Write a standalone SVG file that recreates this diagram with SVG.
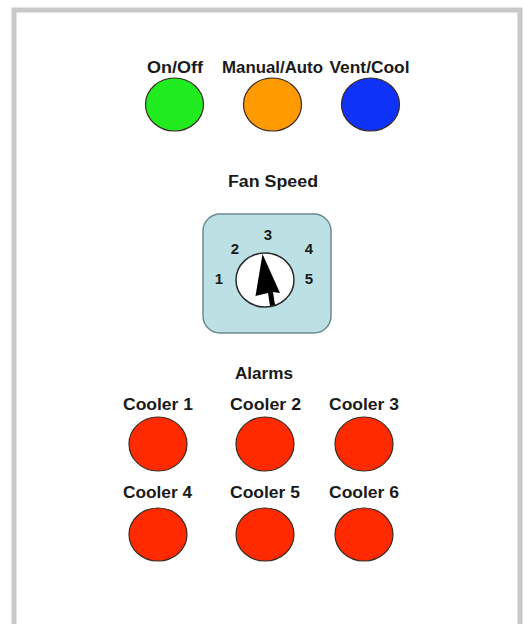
<svg xmlns="http://www.w3.org/2000/svg" width="523" height="624" viewBox="0 0 523 624">
  <style>
    .lbl { font-family: "Liberation Sans", Arial, sans-serif; font-weight: bold; font-size: 16px; fill: #1a1a1a; text-anchor: middle; }
    .num { font-family: "Liberation Sans", Arial, sans-serif; font-weight: bold; font-size: 15px; fill: #1a1a1a; text-anchor: middle; }
    .lamp { stroke: #3a2a20; stroke-width: 1.2; }
    .red { fill: #ff2a00; }
  </style>
  <rect width="523" height="624" fill="#ffffff"/>
  <!-- panel frame -->
  <rect x="14" y="10" width="506" height="640" fill="none" stroke="#c8c8c8" stroke-width="5"/>

  <!-- mode switches -->
  <g id="on-off">
    <text class="lbl" x="175" y="73" textLength="56" lengthAdjust="spacingAndGlyphs">On/Off</text>
    <ellipse class="lamp" cx="174.5" cy="104.5" rx="29" ry="26.5" fill="#20ec20"/>
  </g>
  <g id="manual-auto">
    <text class="lbl" x="272.5" y="73" textLength="101" lengthAdjust="spacingAndGlyphs">Manual/Auto</text>
    <ellipse class="lamp" cx="272.5" cy="104.5" rx="29" ry="26.5" fill="#ff9a00"/>
  </g>
  <g id="vent-cool">
    <text class="lbl" x="369.5" y="73" textLength="80" lengthAdjust="spacingAndGlyphs">Vent/Cool</text>
    <ellipse class="lamp" cx="370.5" cy="104.5" rx="29" ry="26.5" fill="#0f32f8"/>
  </g>

  <!-- fan speed selector -->
  <g id="fan-speed">
    <text class="lbl" x="273" y="187" textLength="90" lengthAdjust="spacingAndGlyphs">Fan Speed</text>
    <rect x="203" y="214" width="128" height="119" rx="17" fill="#bce0e3" stroke="#6c8c8f" stroke-width="1.5"/>
    <text class="num" x="268" y="240">3</text>
    <text class="num" x="235" y="254">2</text>
    <text class="num" x="309" y="254">4</text>
    <text class="num" x="219" y="284">1</text>
    <text class="num" x="309" y="284">5</text>
    <ellipse cx="265" cy="280" rx="29" ry="27" fill="#ffffff" stroke="#2a2a2a" stroke-width="1.5"/>
    <polygon points="262.5,254 280,293 273,292 275,305 270,306 268,293 255.5,296" fill="#000000"/>
  </g>

  <!-- alarm lamps -->
  <text class="lbl" x="264" y="379" textLength="58" lengthAdjust="spacingAndGlyphs">Alarms</text>
  <g id="cooler-1">
    <text class="lbl" x="158" y="410" textLength="70" lengthAdjust="spacingAndGlyphs">Cooler 1</text>
    <ellipse class="lamp red" cx="158" cy="444" rx="29" ry="27"/>
  </g>
  <g id="cooler-2">
    <text class="lbl" x="265.5" y="410" textLength="71" lengthAdjust="spacingAndGlyphs">Cooler 2</text>
    <ellipse class="lamp red" cx="265" cy="444" rx="29" ry="27"/>
  </g>
  <g id="cooler-3">
    <text class="lbl" x="364" y="410" textLength="70" lengthAdjust="spacingAndGlyphs">Cooler 3</text>
    <ellipse class="lamp red" cx="364" cy="444" rx="29" ry="27"/>
  </g>
  <g id="cooler-4">
    <text class="lbl" x="157.5" y="498" textLength="69" lengthAdjust="spacingAndGlyphs">Cooler 4</text>
    <ellipse class="lamp red" cx="158" cy="534.5" rx="29" ry="26.5"/>
  </g>
  <g id="cooler-5">
    <text class="lbl" x="265" y="498" textLength="70" lengthAdjust="spacingAndGlyphs">Cooler 5</text>
    <ellipse class="lamp red" cx="265" cy="534.5" rx="29" ry="26.5"/>
  </g>
  <g id="cooler-6">
    <text class="lbl" x="364" y="498" textLength="70" lengthAdjust="spacingAndGlyphs">Cooler 6</text>
    <ellipse class="lamp red" cx="364" cy="534.5" rx="29" ry="26.5"/>
  </g>
</svg>
